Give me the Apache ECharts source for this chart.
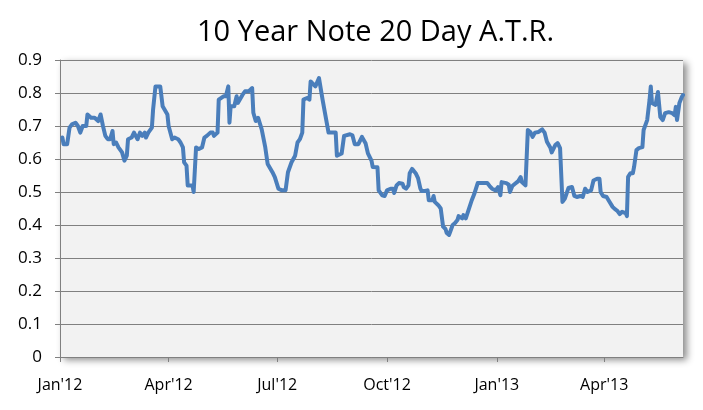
<!DOCTYPE html>
<html>
<head>
<meta charset="utf-8">
<script src="https://cdn.jsdelivr.net/npm/echarts@6/dist/echarts.min.js"></script>
<style>
html,body{margin:0;padding:0;background:#fff;}
#chart{width:703px;height:410px;}
</style>
</head>
<body>
<div id="chart"></div>
<script>
const chartTitle = '10 Year Note 20 Day A.T.R.';

const dates = [
'2012-01-03','2012-01-04','2012-01-07','2012-01-09','2012-01-11','2012-01-14','2012-01-16','2012-01-18','2012-01-20','2012-01-23',
'2012-01-24','2012-01-27','2012-01-30','2012-02-02','2012-02-04','2012-02-06','2012-02-08','2012-02-10','2012-02-12','2012-02-14',
'2012-02-15','2012-02-17','2012-02-19','2012-02-22','2012-02-24','2012-02-26','2012-02-27','2012-03-01','2012-03-03','2012-03-06',
'2012-03-08','2012-03-10','2012-03-12','2012-03-13','2012-03-15','2012-03-18','2012-03-19','2012-03-21','2012-03-25','2012-03-27',
'2012-03-31','2012-04-01','2012-04-04','2012-04-06','2012-04-09','2012-04-11','2012-04-13','2012-04-14','2012-04-16','2012-04-17',
'2012-04-21','2012-04-22','2012-04-24','2012-04-26','2012-04-29','2012-05-01','2012-05-03','2012-05-06','2012-05-08','2012-05-09',
'2012-05-12','2012-05-13','2012-05-17','2012-05-19','2012-05-21','2012-05-22','2012-05-23','2012-05-26','2012-05-28','2012-05-29',
'2012-06-02','2012-06-04','2012-06-07','2012-06-10','2012-06-11','2012-06-13','2012-06-15','2012-06-18','2012-06-21','2012-06-23',
'2012-06-27','2012-06-29','2012-07-02','2012-07-05','2012-07-08','2012-07-10','2012-07-13','2012-07-16','2012-07-18','2012-07-20',
'2012-07-22','2012-07-23','2012-07-26','2012-07-28','2012-07-29','2012-08-02','2012-08-03','2012-08-05','2012-08-08','2012-08-10',
'2012-08-13','2012-08-17','2012-08-19','2012-08-20','2012-08-24','2012-08-26','2012-08-31','2012-09-02','2012-09-04','2012-09-07',
'2012-09-10','2012-09-13','2012-09-15','2012-09-18','2012-09-19','2012-09-23','2012-09-24','2012-09-27','2012-09-29','2012-10-01',
'2012-10-04','2012-10-06','2012-10-07','2012-10-09','2012-10-11','2012-10-14','2012-10-15','2012-10-17','2012-10-19','2012-10-20',
'2012-10-22','2012-10-25','2012-10-27','2012-10-29','2012-10-30','2012-11-02','2012-11-04','2012-11-05','2012-11-08','2012-11-09',
'2012-11-10','2012-11-13','2012-11-15','2012-11-17','2012-11-19','2012-11-20','2012-11-22','2012-11-25','2012-11-27','2012-11-29',
'2012-11-30','2012-12-03','2012-12-04','2012-12-06','2012-12-08','2012-12-11','2012-12-13','2012-12-16','2012-12-17','2012-12-20',
'2012-12-24','2012-12-26','2012-12-28','2012-12-31','2013-01-02','2013-01-04','2013-01-05','2013-01-09','2013-01-11','2013-01-12',
'2013-01-14','2013-01-16','2013-01-19','2013-01-21','2013-01-22','2013-01-25','2013-01-26','2013-01-27','2013-01-29','2013-01-31',
'2013-02-02','2013-02-05','2013-02-08','2013-02-10','2013-02-12','2013-02-15','2013-02-16','2013-02-19','2013-02-21','2013-02-23',
'2013-02-25','2013-02-27','2013-03-02','2013-03-05','2013-03-07','2013-03-09','2013-03-12','2013-03-14','2013-03-16','2013-03-18',
'2013-03-21','2013-03-23','2013-03-26','2013-03-28','2013-03-29','2013-03-31','2013-04-03','2013-04-05','2013-04-08','2013-04-10',
'2013-04-12','2013-04-14','2013-04-16','2013-04-19','2013-04-20','2013-04-21','2013-04-23','2013-04-25','2013-04-26','2013-04-28',
'2013-04-30','2013-05-03','2013-05-04','2013-05-05','2013-05-07','2013-05-09','2013-05-10','2013-05-11','2013-05-14','2013-05-16',
'2013-05-18','2013-05-20','2013-05-22','2013-05-25','2013-05-28','2013-05-30','2013-05-31','2013-06-01','2013-06-03','2013-06-05',
'2013-06-06'
];

const atr = [
0.665,0.645,0.645,0.695,0.705,0.71,0.70,0.68,0.70,0.70,
0.735,0.725,0.725,0.715,0.735,0.70,0.67,0.66,0.66,0.685,
0.645,0.65,0.635,0.62,0.595,0.61,0.66,0.665,0.68,0.66,
0.68,0.67,0.68,0.665,0.68,0.695,0.75,0.82,0.82,0.76,
0.735,0.70,0.66,0.665,0.66,0.65,0.635,0.59,0.58,0.52,
0.52,0.50,0.635,0.63,0.635,0.665,0.67,0.68,0.68,0.67,
0.68,0.78,0.79,0.79,0.82,0.71,0.76,0.76,0.79,0.77,
0.795,0.805,0.805,0.815,0.74,0.715,0.725,0.69,0.635,0.585,
0.56,0.545,0.51,0.505,0.505,0.56,0.59,0.61,0.65,0.66,
0.68,0.78,0.785,0.78,0.835,0.82,0.82,0.845,0.78,0.74,
0.68,0.68,0.68,0.61,0.617,0.67,0.675,0.672,0.645,0.645,
0.667,0.648,0.617,0.595,0.576,0.575,0.505,0.49,0.488,0.505,
0.51,0.51,0.497,0.52,0.527,0.525,0.515,0.51,0.52,0.557,
0.57,0.557,0.542,0.51,0.503,0.503,0.505,0.475,0.475,0.488,
0.47,0.46,0.45,0.395,0.388,0.376,0.37,0.40,0.406,0.415,
0.427,0.42,0.43,0.42,0.442,0.475,0.493,0.527,0.53,0.527,
0.527,0.518,0.51,0.505,0.515,0.49,0.53,0.527,0.522,0.50,
0.518,0.524,0.533,0.545,0.53,0.52,0.522,0.688,0.682,0.667,
0.68,0.682,0.69,0.68,0.652,0.633,0.62,0.642,0.648,0.633,
0.47,0.48,0.512,0.515,0.488,0.485,0.488,0.485,0.51,0.50,
0.505,0.535,0.54,0.54,0.50,0.488,0.485,0.473,0.455,0.448,
0.443,0.433,0.44,0.436,0.427,0.546,0.557,0.557,0.576,0.627,
0.633,0.636,0.688,0.685,0.718,0.78,0.82,0.77,0.764,0.803,
0.727,0.718,0.739,0.742,0.739,0.733,0.758,0.718,0.77,0.788,
0.794
];

const tickDates = ['2012-01-01','2012-04-01','2012-07-01','2012-10-01','2013-01-01','2013-04-01'];
const tickLabels = ["Jan'12","Apr'12","Jul'12","Oct'12","Jan'13","Apr'13"];
const axisStart = '2012-01-01';
const axisEnd = '2013-06-06';

function ts(s){ const p = s.split('-').map(Number); return Date.UTC(p[0], p[1]-1, p[2]); }
const tickTs = tickDates.map(ts);
const seriesData = dates.map((d, i) => [ts(d), atr[i]]);

const FONT = '"Open Sans", sans-serif';
const chart = echarts.init(document.getElementById('chart'), null, {renderer: 'canvas'});
chart.setOption({
  animation: false,
  backgroundColor: '#ffffff',
  title: {
    text: chartTitle,
    left: 192,
    top: 13,
    textStyle: {fontFamily: FONT, fontSize: 29, fontWeight: 'normal', color: '#000'}
  },
  grid: {
    left: 60, right: 20, top: 60, bottom: 53,
    show: true,
    backgroundColor: '#f2f2f2',
    borderWidth: 0,
    shadowBlur: 7,
    shadowColor: 'rgba(0,0,0,0.45)',
    shadowOffsetX: 4,
    shadowOffsetY: 3
  },
  xAxis: {
    type: 'value',
    min: ts(axisStart),
    max: ts(axisEnd),
    axisLine: {show: true, lineStyle: {color: '#808080', width: 1}},
    axisTick: {show: true, customValues: tickTs, length: 5, lineStyle: {color: '#808080'}},
    axisLabel: {
      customValues: tickTs,
      showMinLabel: true, showMaxLabel: true, hideOverlap: false,
      formatter: v => { const i = tickTs.indexOf(v); return i >= 0 ? tickLabels[i] : ''; },
      fontFamily: FONT, fontSize: 16, color: '#000', margin: 20
    },
    splitLine: {show: false}
  },
  yAxis: {
    type: 'value',
    min: 0, max: 0.9, interval: 0.1,
    axisLine: {show: true, lineStyle: {color: '#808080', width: 1}},
    axisTick: {show: true, length: 5, lineStyle: {color: '#808080'}},
    axisLabel: {fontFamily: FONT, fontSize: 17, color: '#000', margin: 18},
    splitLine: {show: true, lineStyle: {color: '#808080', width: 1}}
  },
  series: [{
    type: 'line',
    data: seriesData,
    showSymbol: false,
    lineStyle: {color: '#4a7ebb', width: 4, join: 'round', cap: 'round'},
    itemStyle: {color: '#4a7ebb'}
  }]
});
</script>
</body>
</html>
